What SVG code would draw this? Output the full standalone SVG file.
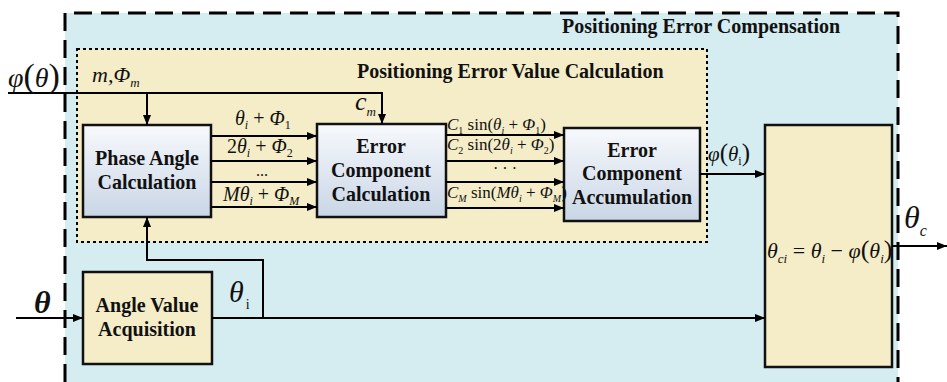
<svg xmlns="http://www.w3.org/2000/svg" width="947" height="382" viewBox="0 0 947 382">
  <style>
    .title { font-family: "Liberation Serif", "Times New Roman", serif; font-weight: bold; font-size: 20px; fill: #111; }
    .lbl { font-family: "Liberation Serif", "Times New Roman", serif; font-weight: bold; font-size: 20px; fill: #111; text-anchor: middle; }
    .math { font-family: "Liberation Serif", "Times New Roman", serif; fill: #111; }
    .it { font-style: italic; }
    .box { stroke: #111; stroke-width: 2.5; }
    .wire { fill: none; stroke: #000; stroke-width: 2; }
  </style>
  <defs>
    <linearGradient id="steel" x1="0" y1="0" x2="0" y2="1">
      <stop offset="0" stop-color="#f7f9fc"/>
      <stop offset="1" stop-color="#c9d6e6"/>
    </linearGradient>
    <marker id="ah" viewBox="0 0 10 8" refX="10" refY="4" markerWidth="10" markerHeight="8" orient="auto" markerUnits="userSpaceOnUse">
      <path d="M0,0 L10,4 L0,8 z" fill="#000"/>
    </marker>
  </defs>

  <rect width="947" height="382" fill="#fff"/>

  <!-- outer compensation region -->
  <g id="compensation-region">
    <rect x="65" y="13" width="833" height="372" fill="#d5ecf0"/>
    <path d="M65,382 V13 H898 V382" fill="none" stroke="#000" stroke-width="3" stroke-dasharray="18 9"/>
    <text class="title" x="562" y="33">Positioning Error Compensation</text>
  </g>

  <!-- inner calculation region -->
  <g id="calculation-region">
    <rect x="77" y="49" width="630" height="193" fill="#f5edc8" stroke="#000" stroke-width="2" stroke-dasharray="3 3"/>
    <text class="title" x="357" y="78">Positioning Error Value Calculation</text>
  </g>

  <g id="phase-angle">
    <rect class="box" x="83" y="125" width="128" height="92" fill="url(#steel)"/>
    <text class="lbl" x="147" y="165">Phase Angle</text>
    <text class="lbl" x="147" y="189">Calculation</text>
  </g>

  <g id="error-component">
    <rect class="box" x="317" y="124" width="129" height="93" fill="url(#steel)"/>
    <text class="lbl" x="381" y="153">Error</text>
    <text class="lbl" x="381" y="177">Component</text>
    <text class="lbl" x="381" y="201">Calculation</text>
  </g>

  <g id="error-accumulation">
    <rect class="box" x="564" y="128" width="136" height="93" fill="url(#steel)"/>
    <text class="lbl" x="632" y="157">Error</text>
    <text class="lbl" x="632" y="180">Component</text>
    <text class="lbl" x="632" y="204">Accumulation</text>
  </g>

  <g id="angle-acquisition">
    <rect class="box" x="83" y="272" width="129" height="92" fill="#f5edc8"/>
    <text class="lbl" x="147" y="312">Angle Value</text>
    <text class="lbl" x="147" y="336">Acquisition</text>
  </g>

  <g id="compensation-output">
    <rect class="box" x="765" y="125" width="127" height="242" fill="#f5edc8"/>
    <text class="math" x="767" y="258" font-size="22"><tspan class="it">θ</tspan><tspan class="it" font-size="13" dy="5">ci</tspan><tspan dy="-5"> = </tspan><tspan class="it">θ</tspan><tspan class="it" font-size="13" dy="5">i</tspan><tspan dy="-5"> − </tspan><tspan class="it">φ</tspan><tspan font-size="26">(</tspan><tspan class="it">θ</tspan><tspan class="it" font-size="13" dy="5">i</tspan><tspan font-size="26" dy="-5">)</tspan></text>
  </g>

  <g id="connectors">
    <!-- phase error curve input -->
    <path class="wire" d="M8,93 H382 V124" marker-end="url(#ah)"/>
    <path class="wire" d="M147,93 V125" marker-end="url(#ah)"/>
    <!-- phase angles -->
    <path class="wire" d="M211,136 H317" marker-end="url(#ah)"/>
    <path class="wire" d="M211,161 H317" marker-end="url(#ah)"/>
    <path class="wire" d="M211,182 H317" marker-end="url(#ah)"/>
    <path class="wire" d="M211,207 H317" marker-end="url(#ah)"/>
    <!-- error components -->
    <path class="wire" d="M446,135 H564" marker-end="url(#ah)"/>
    <path class="wire" d="M446,161 H564" marker-end="url(#ah)"/>
    <path class="wire" d="M446,182 H564" marker-end="url(#ah)"/>
    <path class="wire" d="M446,208 H564" marker-end="url(#ah)"/>
    <!-- accumulated error -->
    <path class="wire" d="M700,174 H765" marker-end="url(#ah)"/>
    <!-- measured angle -->
    <path class="wire" d="M16,318 H83" marker-end="url(#ah)"/>
    <path class="wire" d="M212,318 H765" marker-end="url(#ah)"/>
    <path class="wire" d="M263,318 V260 H147 V217" marker-end="url(#ah)"/>
    <!-- compensated output -->
    <path class="wire" d="M892,246 H947" marker-end="url(#ah)"/>
  </g>

  <g id="labels">
    <text class="math" x="8" y="87" font-size="28"><tspan class="it">φ</tspan><tspan font-size="34">(</tspan><tspan class="it">θ</tspan><tspan font-size="34">)</tspan></text>
    <text class="math it" x="92" y="82" font-size="22">m,Φ<tspan font-size="13" dy="5">m</tspan></text>
    <text class="math it" x="355" y="110" font-size="26">c<tspan font-size="13" dy="6">m</tspan></text>

    <text class="math it" x="235" y="125" font-size="20">θ<tspan font-size="12" dy="4">i</tspan><tspan font-style="normal" dy="-4"> + </tspan>Φ<tspan font-size="12" dy="4" font-style="normal">1</tspan></text>
    <text class="math it" x="227" y="153" font-size="20"><tspan font-style="normal">2</tspan>θ<tspan font-size="12" dy="4">i</tspan><tspan font-style="normal" dy="-4"> + </tspan>Φ<tspan font-size="12" dy="4" font-style="normal">2</tspan></text>
    <text class="math" x="262" y="176" font-size="16" text-anchor="middle">...</text>
    <text class="math it" x="223" y="201" font-size="20">Mθ<tspan font-size="12" dy="4">i</tspan><tspan font-style="normal" dy="-4"> + </tspan>Φ<tspan font-size="12" dy="4">M</tspan></text>

    <text class="math" x="447" y="130" font-size="17"><tspan class="it">C</tspan><tspan font-size="10" dy="4">1</tspan><tspan dy="-4"> sin(</tspan><tspan class="it">θ</tspan><tspan class="it" font-size="10" dy="4">i</tspan><tspan dy="-4"> + </tspan><tspan class="it">Φ</tspan><tspan font-size="10" dy="4">1</tspan><tspan dy="-4">)</tspan></text>
    <text class="math" x="447" y="150" font-size="17"><tspan class="it">C</tspan><tspan font-size="10" dy="4">2</tspan><tspan dy="-4"> sin(2</tspan><tspan class="it">θ</tspan><tspan class="it" font-size="10" dy="4">i</tspan><tspan dy="-4"> + </tspan><tspan class="it">Φ</tspan><tspan font-size="10" dy="4">2</tspan><tspan dy="-4">)</tspan></text>
    <text class="math" x="505" y="174" font-size="16" text-anchor="middle">· · ·</text>
    <text class="math" x="447" y="198" font-size="17"><tspan class="it">C</tspan><tspan class="it" font-size="10" dy="4">M</tspan><tspan dy="-4"> sin(</tspan><tspan class="it">Mθ</tspan><tspan class="it" font-size="10" dy="4">i</tspan><tspan dy="-4"> + </tspan><tspan class="it">Φ</tspan><tspan class="it" font-size="10" dy="4">M</tspan><tspan dy="-4">)</tspan></text>

    <text class="math" x="708" y="161" font-size="21"><tspan class="it">φ</tspan><tspan font-size="25">(</tspan><tspan class="it">θ</tspan><tspan font-size="12" dy="4">i</tspan><tspan font-size="25" dy="-4">)</tspan></text>

    <text class="math it" x="34" y="313" font-size="32" font-weight="bold">θ</text>
    <text class="math" x="229" y="302" font-size="30"><tspan class="it">θ</tspan><tspan font-size="14" dx="2" dy="7">i</tspan></text>
    <text class="math" x="904" y="228" font-size="32"><tspan class="it">θ</tspan><tspan class="it" font-size="16" dy="8">c</tspan></text>
  </g>
</svg>
